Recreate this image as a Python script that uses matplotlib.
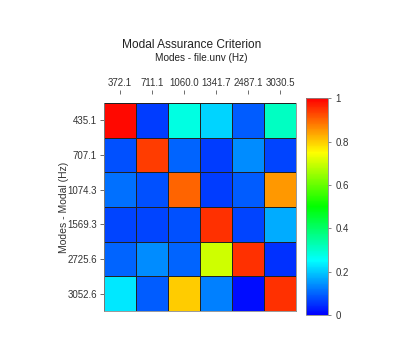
import numpy as np
import matplotlib
matplotlib.use("Agg")
import matplotlib.pyplot as plt
from matplotlib.colors import LinearSegmentedColormap

plt.rcParams['font.family'] = ['Liberation Sans', 'DejaVu Sans']

col_labels = ["372.1", "711.1", "1060.0", "1341.7", "2487.1", "3030.5"]
row_labels = ["435.1", "707.1", "1074.3", "1569.3", "2725.6", "3052.6"]
mac = np.array([
    [0.99, 0.06, 0.28, 0.21, 0.09, 0.31],
    [0.08, 0.94, 0.10, 0.06, 0.14, 0.07],
    [0.11, 0.08, 0.90, 0.06, 0.09, 0.85],
    [0.07, 0.07, 0.08, 0.95, 0.07, 0.17],
    [0.10, 0.14, 0.10, 0.70, 0.95, 0.05],
    [0.23, 0.09, 0.80, 0.125, 0.015, 0.95],
])

cmap = LinearSegmentedColormap.from_list(
    "mac", [(0.0, (0, 0, 1)), (0.25, (0, 1, 1)), (0.5, (0, 1, 0)),
            (0.75, (1, 1, 0)), (1.0, (1, 0, 0))])

fig = plt.figure(figsize=(4.0, 3.57), dpi=100)
ax = fig.add_axes([0.26, 0.129, 0.48, 0.583])
cax = fig.add_axes([0.765, 0.118, 0.055, 0.607])

mesh = ax.pcolormesh(mac, cmap=cmap, vmin=0, vmax=1, edgecolor='#222222', linewidth=0.6)
ax.set_xlim(0, 6)
ax.set_ylim(6, 0)
ax.set_xticks(np.arange(6) + 0.5)
ax.set_xticklabels(col_labels)
ax.set_yticks(np.arange(6) + 0.5)
ax.set_yticklabels(row_labels)
ax.xaxis.tick_top()
ax.tick_params(axis='both', labelsize=7, length=3, width=0.6, color='#555555', labelcolor='#333333', pad=2)
for s in ax.spines.values():
    s.set_color('#888888')
    s.set_linewidth(0.6)
ax.spines['top'].set_visible(False)
ax.spines['top'].set_position(('outward', 6))
ax.set_ylabel("Modes - Modal (Hz)", fontsize=7.5, color='#333333')
ax.yaxis.set_label_coords(-0.18, 0.5)

cb = fig.colorbar(mesh, cax=cax)
cb.set_ticks([0, 0.2, 0.4, 0.6, 0.8, 1])
cb.set_ticklabels(["0", "0.2", "0.4", "0.6", "0.8", "1"])
cb.ax.tick_params(labelsize=7, length=2, width=0.5, labelcolor='#333333', color='#555555')
cb.outline.set_edgecolor('#888888')
cb.outline.set_linewidth(0.6)

fig.text(0.478, 0.873, "Modal Assurance Criterion", ha='center', va='center', fontsize=8.6, color='#222222')
fig.text(0.503, 0.838, "Modes - file.unv (Hz)", ha='center', va='center', fontsize=7.2, color='#222222')

fig.savefig("out.png", dpi=100)
